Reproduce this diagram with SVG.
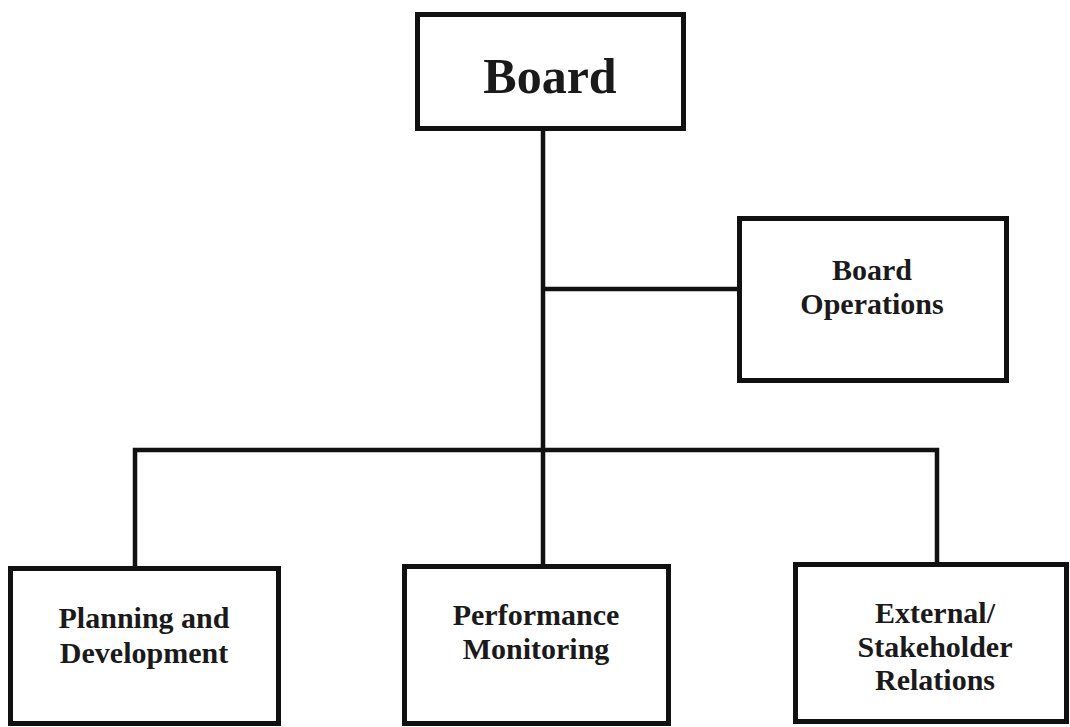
<svg xmlns="http://www.w3.org/2000/svg" width="1070" height="727" viewBox="0 0 1070 727">
<style>
.box{fill:#fff;stroke:#111;stroke-width:5}
.ln{fill:none;stroke:#111;stroke-width:4.5}
text{font-family:"Liberation Serif","Times New Roman",serif;font-weight:bold;fill:#1a1a1a;text-anchor:middle}
.t{font-size:30px}
.big{font-size:50px}
</style>
<rect width="1070" height="727" fill="#fff"/>
<g id="connectors">
<line class="ln" x1="543" y1="128" x2="543" y2="566"/>
<line class="ln" x1="543" y1="289" x2="739" y2="289"/>
<polyline class="ln" points="135,569 135,450 937,450 937,565"/>
</g>
<g id="board">
<rect class="box" x="417.5" y="14.5" width="266" height="114"/>
<text class="big" x="550" y="93">Board</text>
</g>
<g id="board-operations">
<rect class="box" x="739.5" y="218.5" width="267" height="162"/>
<text class="t" x="872" y="280">Board</text>
<text class="t" x="872" y="314">Operations</text>
</g>
<g id="planning">
<rect class="box" x="10.5" y="568.5" width="268" height="155"/>
<text class="t" x="144" y="628">Planning and</text>
<text class="t" x="144" y="663">Development</text>
</g>
<g id="performance">
<rect class="box" x="404.5" y="566.5" width="264" height="157"/>
<text class="t" x="536" y="625">Performance</text>
<text class="t" x="536" y="659">Monitoring</text>
</g>
<g id="external">
<rect class="box" x="795.5" y="564.5" width="271" height="157"/>
<text class="t" x="935" y="623">External/</text>
<text class="t" x="935" y="657">Stakeholder</text>
<text class="t" x="935" y="690">Relations</text>
</g>
</svg>
